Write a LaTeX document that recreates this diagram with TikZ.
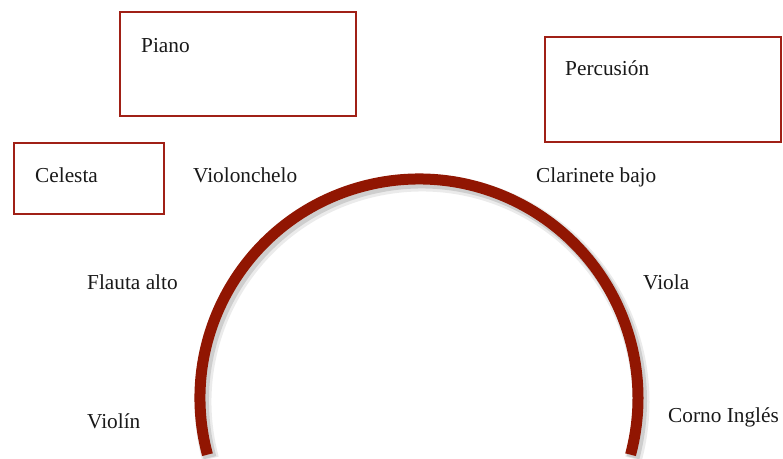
\documentclass[tikz,border=0pt]{standalone}
\usepackage{fontspec}
\setmainfont{Liberation Serif}
\begin{document}
\begin{tikzpicture}[x=1pt,y=-1pt,
  box/.style={draw=boxred, line width=2pt, fill=white, minimum width=#1, inner sep=0pt},
  lbl/.style={anchor=base west, inner sep=0pt, font=\fontsize{21.3}{24}\selectfont, text=black!90}]
\definecolor{boxred}{RGB}{160,32,22}
\definecolor{arcred}{RGB}{145,22,2}
\useasboundingbox (0,0) rectangle (783,458);
% boxes
\node[box=236pt, minimum height=104pt] (pianobox) at (238,64) {};
\node[box=236pt, minimum height=105pt] (percbox) at (663,89.5) {};
\node[box=150pt, minimum height=71pt] (celbox) at (89,178.5) {};
\node[lbl] (piano) at (141,52) {Piano};
\node[lbl] (perc) at (565,75) {Percusión};
\node[lbl] (cel) at (35,182) {Celesta};
% labels
\node[lbl] (vc) at (193,182) {Violonchelo};
\node[lbl] (cb) at (536,182) {Clarinete bajo};
\node[lbl] (fa) at (87,289) {Flauta alto};
\node[lbl] (va) at (643,289) {Viola};
\node[lbl] (vn) at (87,428) {Violín};
\node[lbl] (ci) at (668,422) {Corno Inglés};
% arc with shadow
\coordinate (c) at (419,398);
\draw[black, opacity=0.12, line width=13pt] ([shift={(2.5,3)}]c) ++(165:219) arc[start angle=165, end angle=375, radius=219];
\draw[black, opacity=0.08, line width=17pt] ([shift={(3,4)}]c) ++(165:219) arc[start angle=165, end angle=375, radius=219];
\draw[arcred, line width=11pt] (c) ++(165:219) arc[start angle=165, end angle=375, radius=219];
\end{tikzpicture}
\end{document}
